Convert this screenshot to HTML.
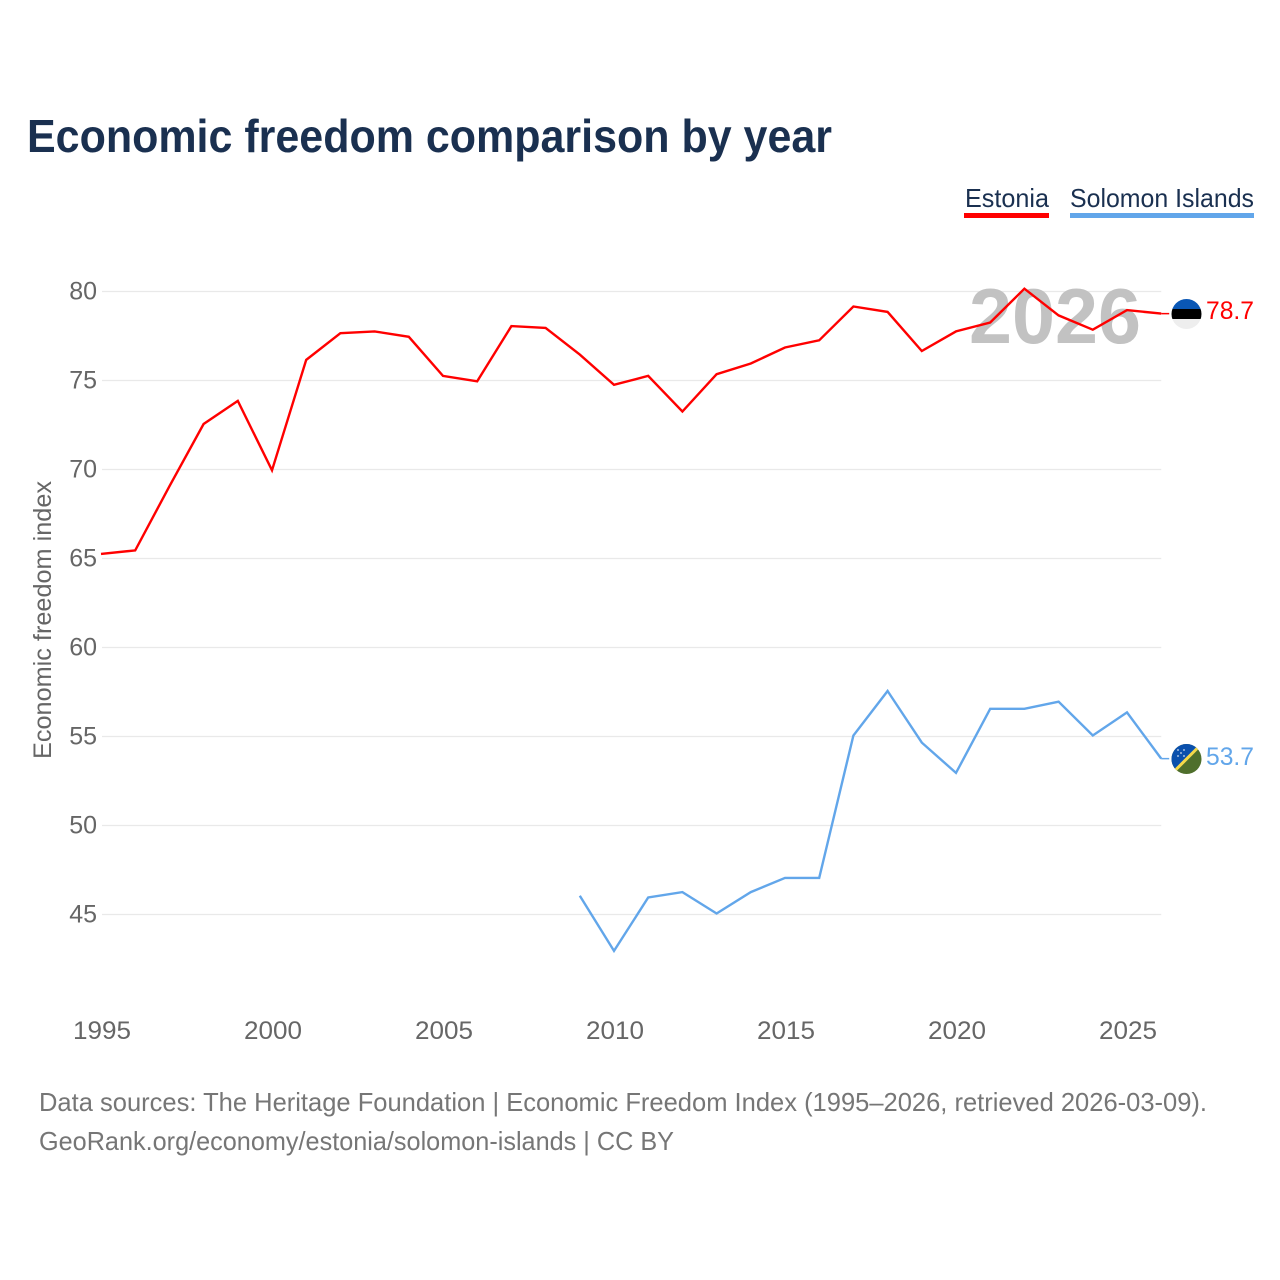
<!DOCTYPE html>
<html>
<head>
<meta charset="utf-8">
<style>
html,body{margin:0;padding:0;background:#fff}
svg{display:block}
text{font-family:"Liberation Sans",sans-serif}
</style>
</head>
<body>
<svg id="chart" width="1280" height="1280" viewBox="0 0 1280 1280" xmlns="http://www.w3.org/2000/svg">
<defs>
<clipPath id="flag-clip-ee"><circle cx="1186.5" cy="314" r="15"/></clipPath>
<clipPath id="flag-clip-sb"><circle cx="1186.5" cy="759" r="15"/></clipPath>
</defs>
<rect width="1280" height="1280" fill="#fff"/>
<text x="27" y="152" font-size="46" font-weight="700" fill="#1a3050" textLength="805" lengthAdjust="spacingAndGlyphs">Economic freedom comparison by year</text>
<g>
<text x="965" y="207" font-size="26" fill="#1a3050" textLength="84" lengthAdjust="spacingAndGlyphs">Estonia</text>
<rect x="964" y="213" width="85" height="5" fill="#ff0000"/>
</g>
<g>
<text x="1070" y="207" font-size="26" fill="#1a3050" textLength="184" lengthAdjust="spacingAndGlyphs">Solomon Islands</text>
<rect x="1070" y="213" width="184" height="5" fill="#62a6ea"/>
</g>
<g id="grid"></g>
<text x="969" y="343" font-size="78" font-weight="700" fill="#c2c2c2" textLength="172" lengthAdjust="spacingAndGlyphs">2026</text>
<g id="y-ticks"></g>
<g id="x-ticks"></g>
<text transform="translate(51,759) rotate(-90)" font-size="25" fill="#666" textLength="278" lengthAdjust="spacingAndGlyphs">Economic freedom index</text>
<g id="series" transform="translate(-1,-1)"></g>
<g clip-path="url(#flag-clip-ee)">
<rect x="1171" y="299" width="31" height="10" fill="#0a57b5"/>
<rect x="1171" y="309" width="31" height="10" fill="#000"/>
<rect x="1171" y="319" width="31" height="10" fill="#eeeeee"/>
</g>
<g clip-path="url(#flag-clip-sb)">
<rect x="1171" y="744" width="31" height="30" fill="#4f6f2c"/>
<polygon points="1171.5,744 1201.5,744 1171.5,774" fill="#0a50ad"/>
<line x1="1173.5" y1="772" x2="1199.5" y2="746" stroke="#f5d94a" stroke-width="3"/>
<g fill="#fff" opacity="0.8"><circle cx="1178" cy="750" r="0.9"/><circle cx="1184" cy="750" r="0.9"/><circle cx="1181" cy="753" r="0.9"/><circle cx="1178" cy="756" r="0.9"/><circle cx="1184" cy="756" r="0.9"/></g>
</g>
<text x="1206" y="319" font-size="25" fill="#ff0000" textLength="48" lengthAdjust="spacingAndGlyphs">78.7</text>
<text x="1206" y="765" font-size="25" fill="#62a6ea" textLength="48" lengthAdjust="spacingAndGlyphs">53.7</text>
<text x="39" y="1111" font-size="26" fill="#767676" textLength="1168" lengthAdjust="spacingAndGlyphs">Data sources: The Heritage Foundation | Economic Freedom Index (1995–2026, retrieved 2026-03-09).</text>
<text x="39" y="1150" font-size="26" fill="#767676" textLength="635" lengthAdjust="spacingAndGlyphs">GeoRank.org/economy/estonia/solomon-islands | CC BY</text>
</svg>
<script>
const years = [1995,1996,1997,1998,1999,2000,2001,2002,2003,2004,2005,2006,2007,2008,2009,2010,2011,2012,2013,2014,2015,2016,2017,2018,2019,2020,2021,2022,2023,2024,2025,2026];
const estoniaValues = [65.2,65.4,69.0,72.5,73.8,69.9,76.1,77.6,77.7,77.4,75.2,74.9,78.0,77.9,76.4,74.7,75.2,73.2,75.3,75.9,76.8,77.2,79.1,78.8,76.6,77.7,78.2,80.1,78.6,77.8,78.9,78.7];
const solomonValues = [null,null,null,null,null,null,null,null,null,null,null,null,null,null,46.0,42.9,45.9,46.2,45.0,46.2,47.0,47.0,55.0,57.5,54.6,52.9,56.5,56.5,56.9,55.0,56.3,53.7];
const yTickLabels = [80,75,70,65,60,55,50,45];
const xTickLabels = [1995,2000,2005,2010,2015,2020,2025];

const NS = 'http://www.w3.org/2000/svg';
const xScale = function (year) { return 102 + (year - 1995) * 34.2; };
const yScale = function (value) { return 291.5 + (80 - value) * 17.8; };
const gridGroup = document.getElementById('grid');
const yGroup = document.getElementById('y-ticks');
const xGroup = document.getElementById('x-ticks');
const seriesGroup = document.getElementById('series');

yTickLabels.forEach(function (tick) {
  const line = document.createElementNS(NS, 'line');
  
  
  line.setAttribute('x1', xScale(1995));
  line.setAttribute('x2', xScale(2026) - 1);
  line.setAttribute('y1', yScale(tick));
  line.setAttribute('y2', yScale(tick));
  line.setAttribute('stroke', '#e9e9e9');
  line.setAttribute('stroke-width', '1.2');
  gridGroup.appendChild(line);
  const label = document.createElementNS(NS, 'text');
  
  
  label.setAttribute('x', 97);
  label.setAttribute('y', yScale(tick) + 8);
  label.setAttribute('text-anchor', 'end');
  label.setAttribute('font-size', '25');
  label.setAttribute('fill', '#666');
  label.textContent = tick;
  yGroup.appendChild(label);
});

xTickLabels.forEach(function (tick) {
  const label = document.createElementNS(NS, 'text');
  
  
  label.setAttribute('x', xScale(tick));
  label.setAttribute('y', 1039);
  label.setAttribute('text-anchor', 'middle');
  label.setAttribute('font-size', '25');
  label.setAttribute('fill', '#666');
  label.setAttribute('textLength', '58');
  label.setAttribute('lengthAdjust', 'spacingAndGlyphs');
  label.textContent = tick;
  xGroup.appendChild(label);
});

function drawSeries(values, colour, name) {
  const points = [];
  values.forEach(function (value, i) {
    if (value !== null) {
      points.push(xScale(years[i]).toFixed(1) + ',' + yScale(value).toFixed(1));
    }
  });
  const path = document.createElementNS(NS, 'polyline');
  
  
  path.setAttribute('points', points.join(' '));
  path.setAttribute('fill', 'none');
  path.setAttribute('stroke', colour);
  path.setAttribute('stroke-width', '2.4');
  seriesGroup.appendChild(path);
  const last = values[values.length - 1];
  const connector = document.createElementNS(NS, 'line');
  
  
  connector.setAttribute('x1', xScale(years[years.length - 1]));
  connector.setAttribute('x2', xScale(years[years.length - 1]) + 8);
  connector.setAttribute('y1', yScale(last));
  connector.setAttribute('y2', yScale(last));
  connector.setAttribute('stroke', colour);
  connector.setAttribute('stroke-width', '1.5');
  seriesGroup.appendChild(connector);
}

drawSeries(estoniaValues, '#ff0000', 'line-estonia');
drawSeries(solomonValues, '#62a6ea', 'line-solomon-islands');
</script>
</body>
</html>
